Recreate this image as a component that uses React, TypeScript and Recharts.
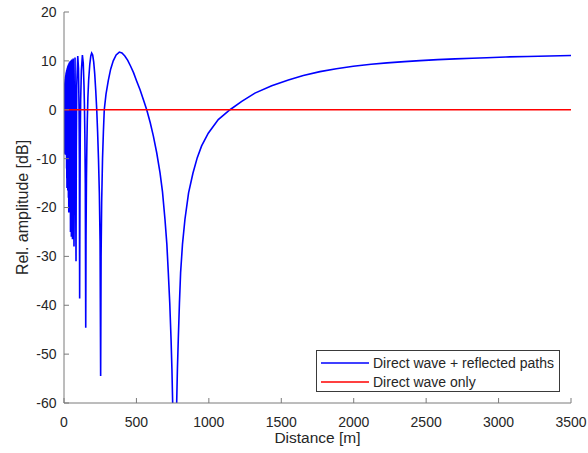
import React from 'react';
import { LineChart, Line, XAxis, YAxis, Legend, Label } from 'recharts';

// ---- data ----
const combinedDistance = [
  0.3, 0.8, 1.3, 1.8, 2.3, 2.8, 3.4, 4.0, 4.6, 5.2, 5.8, 6.4, 7.0, 7.6, 8.2, 8.8, 9.4, 10.0,
  10.6, 11.2, 11.8, 12.4, 13.0, 13.7, 14.4, 15.1, 15.8, 16.5, 17.2, 17.9, 18.6, 19.5, 20.0,
  20.5, 21.1, 21.7, 22.4, 23.0, 23.75, 24.5, 25.3, 26.2, 27.1, 28.1, 29.2, 30.4, 31.7, 33.0,
  34.5, 36.2, 38, 40, 42.2, 44.7, 47.5, 50.7, 54.3, 58.5, 63.3, 69, 76,
  83, 85, 88, 95, 100, 104, 106,
  108, 110, 112, 115, 120, 127, 133, 138, 141, 144, 147,
  150, 152, 155, 158, 161, 165, 170, 178, 185, 191, 198, 205, 212, 219, 226, 232, 238, 244, 249,
  253, 256, 260, 266, 272, 278, 290, 306, 322, 340, 360,
  382, 400, 420, 440, 460, 480, 500, 525, 550, 571, 595, 617, 640, 663, 680, 697, 710, 720, 730,
  739, 745, 750, 764, 778, 783, 789, 797, 805, 818, 835, 860, 890, 920, 950, 996, 1065, 1146,
  1227, 1318, 1434, 1549, 1652, 1767, 1880, 1997, 2120, 2230, 2350, 2458, 2580, 2700, 2818,
  2918, 3050, 3200, 3350, 3500,
];
const combinedLevel = [
  0, -4, 2, -6, 3.5, -8, 4.5, -8.5, 5.2, -9, 5.6, -8.8, 6, -9, 6.3, -9.2, 6.6, -8.9,
  6.8, -9.1, 7, -9, 7.2, -9.2, 7.5, -9, 7.7, -9.3, 7.9, -12, 8.1, -14, 8.2,
  -16, 8.3, -15, 8.5, -16, 8.6, -16, 8.8, -16.5, 9, -16, 9.1, -18, 9.3, -21,
  9.5, -20.5, 9.7, -21, 9.9, -25, 10.1, -26, 10.3, -26.5, 10.5, -28, 10.7,
  -31, -8, 5, 11, 8.5, 0, -10,
  -38.6, -18, -6, 2, 8, 11.2, 9.5, 5, 1, -5, -15,
  -44.6, -26, -14, -7, -2, 2.5, 6, 9.3, 11, 11.6, 11.2, 9.8, 7.4, 4, 0, -4.5, -10, -17, -27,
  -54.5, -30, -19, -10, -4.5, 0, 3.2, 6.0, 8.3, 10.0, 11.2,
  11.8, 11.6, 11.0, 10.1, 8.9, 7.6, 6.0, 4.1, 1.9, 0, -2.6, -5.4, -8.8, -12.9, -16.8, -22.4, -27.5, -33.3, -39.5,
  -46.9, -53, -59.8, -80, -59.8, -53, -46.9, -39.5, -33.3, -27.5, -22.4, -17, -13, -9.8, -7.4, -4.8, -2.0, 0,
  1.7, 3.4, 4.9, 6.1, 7.0, 7.8, 8.4, 8.9, 9.3, 9.6, 9.85, 10.05, 10.25, 10.4, 10.55,
  10.65, 10.8, 10.9, 11.0, 11.1,
];
const directDistance = [0, 3500];
const directLevel = [0, 0];

const xTicks = [0, 500, 1000, 1500, 2000, 2500, 3000, 3500];
const yTicks = [-60, -50, -40, -30, -20, -10, 0, 10, 20];

const seriesNames = ['Direct wave + reflected paths', 'Direct wave only'];
const xLabel = 'Distance [m]';
const yLabel = 'Rel. amplitude [dB]';

const combinedData = combinedDistance.map((d, i) => ({ d, v: combinedLevel[i] }));
const directData = directDistance.map((d, i) => ({ d, v: directLevel[i] }));

// ---- styles ----
const AXIS_COLOR = '#7a7a7a';
const TEXT_COLOR = '#262626';
const FONT = 'Arial, "Liberation Sans", Helvetica, sans-serif';
const TICK_LEN = 5;
const Y_TICK_GAP = 7.5;
const X_TICK_GAP = 14;

const LeftTick = (props: any) => {
  const { x, y, payload } = props;
  const ax = x + Y_TICK_GAP;
  return (
    <g>
      <line x1={ax} x2={ax + TICK_LEN} y1={y} y2={y} stroke={AXIS_COLOR} strokeWidth={1} />
      <text x={x} y={y} dy="0.355em" textAnchor="end" fill={TEXT_COLOR} fontSize={14} fontFamily={FONT}>
        {payload.value}
      </text>
    </g>
  );
};

const BottomTick = (props: any) => {
  const { x, y, payload } = props;
  const ay = y - X_TICK_GAP;
  return (
    <g>
      <line x1={x} x2={x} y1={ay} y2={ay - TICK_LEN} stroke={AXIS_COLOR} strokeWidth={1} />
      <text x={x} y={y} dy="0.71em" textAnchor="middle" fill={TEXT_COLOR} fontSize={14} fontFamily={FONT}>
        {payload.value}
      </text>
    </g>
  );
};

const TopTick = (props: any) => {
  const { x, y } = props;
  return <line x1={x} x2={x} y1={y} y2={y + TICK_LEN} stroke={AXIS_COLOR} strokeWidth={1} />;
};

const RightTick = (props: any) => {
  const { x, y } = props;
  return <line x1={x} x2={x - TICK_LEN} y1={y} y2={y} stroke={AXIS_COLOR} strokeWidth={1} />;
};

const LegendBox = (props: any) => {
  const { payload } = props;
  return (
    <div
      style={{
        boxSizing: 'border-box',
        width: 244,
        height: 42,
        border: '1px solid #3a3a3a',
        background: '#fff',
        paddingTop: 2,
        fontFamily: FONT,
        fontSize: 14,
        color: TEXT_COLOR,
      }}
    >
      {(payload || []).map((p: any) => (
        <div key={p.value} style={{ display: 'flex', alignItems: 'center', height: 19, whiteSpace: 'nowrap' }}>
          <svg width={48} height={4} style={{ marginLeft: 4, marginRight: 4, display: 'block' }}>
            <line x1={0} x2={48} y1={2} y2={2} stroke={p.color} strokeWidth={1.6} />
          </svg>
          <span>{p.value}</span>
        </div>
      ))}
    </div>
  );
};

export default function App() {
  return (
    <div style={{ position: 'absolute', left: 0, top: 0, width: 588, height: 453, background: '#fff' }}>
      <LineChart width={588} height={453} margin={{ top: 12, right: 17, bottom: 24, left: 24 }}>
        <XAxis
          xAxisId="bottom"
          dataKey="d"
          type="number"
          orientation="bottom"
          domain={[0, 3500]}
          allowDataOverflow
          ticks={xTicks}
          interval={0}
          height={26}
          tickSize={0}
          tickMargin={X_TICK_GAP}
          tickLine={false}
          tick={<BottomTick />}
          axisLine={{ stroke: AXIS_COLOR, strokeWidth: 1 }}
        >
          <Label
            value={xLabel}
            position="bottom"
            offset={3}
            style={{ fontSize: 15.5, fill: TEXT_COLOR, fontFamily: FONT }}
          />
        </XAxis>
        <XAxis
          xAxisId="top"
          dataKey="d"
          type="number"
          orientation="top"
          domain={[0, 3500]}
          allowDataOverflow
          ticks={xTicks}
          interval={0}
          height={0}
          tickSize={0}
          tickMargin={0}
          tickLine={false}
          tick={<TopTick />}
          axisLine={{ stroke: AXIS_COLOR, strokeWidth: 1 }}
        />
        <YAxis
          yAxisId="left"
          type="number"
          orientation="left"
          domain={[-60, 20]}
          allowDataOverflow
          ticks={yTicks}
          interval={0}
          width={40}
          tickSize={0}
          tickMargin={Y_TICK_GAP}
          tickLine={false}
          tick={<LeftTick />}
          axisLine={{ stroke: AXIS_COLOR, strokeWidth: 1 }}
        >
          <Label
            value={yLabel}
            angle={-90}
            position="insideLeft"
            offset={-1.5}
            style={{ fontSize: 16, fill: TEXT_COLOR, fontFamily: FONT, textAnchor: 'middle' }}
          />
        </YAxis>
        <YAxis
          yAxisId="right"
          type="number"
          orientation="right"
          domain={[-60, 20]}
          allowDataOverflow
          ticks={yTicks}
          interval={0}
          width={0}
          tickSize={0}
          tickMargin={0}
          tickLine={false}
          tick={<RightTick />}
          axisLine={{ stroke: AXIS_COLOR, strokeWidth: 1 }}
        />
        <Line
          xAxisId="bottom"
          yAxisId="left"
          data={combinedData}
          dataKey="v"
          name={seriesNames[0]}
          type="linear"
          stroke="#0000ff"
          strokeWidth={1.6}
          dot={false}
          activeDot={false}
          isAnimationActive={false}
        />
        <Line
          xAxisId="top"
          yAxisId="right"
          data={directData}
          dataKey="v"
          name={seriesNames[1]}
          type="linear"
          stroke="#ff0000"
          strokeWidth={1.6}
          dot={false}
          activeDot={false}
          isAnimationActive={false}
        />
        <Legend
          layout="vertical"
          align="center"
          verticalAlign="middle"
          content={<LegendBox />}
          wrapperStyle={{ left: 316, top: 350, width: 244, height: 42 }}
        />
      </LineChart>
    </div>
  );
}
